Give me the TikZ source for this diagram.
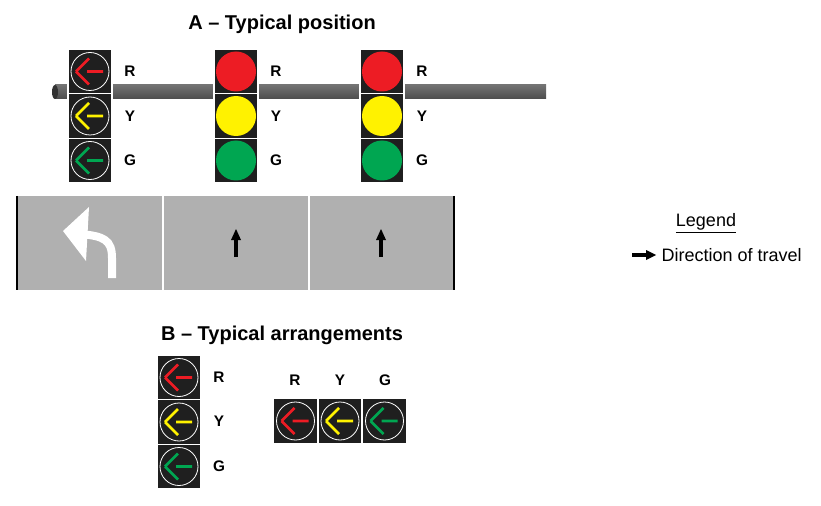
\documentclass[tikz,border=0pt]{standalone}
\usepackage{fontspec}
\setmainfont{Liberation Sans}
\begin{document}
\begin{tikzpicture}[x=0.75pt,y=-0.75pt,
  cell/.style={fill=black!88,draw=white,line width=0.8pt,minimum width=33pt,minimum height=33.5pt,inner sep=0pt},
  lbl/.style={font=\bfseries\fontsize{11.5}{13}\selectfont},
  ttl/.style={font=\bfseries\fontsize{15}{18}\selectfont},
  lamp/.style={circle,minimum size=30pt,inner sep=0pt}]
\useasboundingbox (0,0) rectangle (821,506);
\newcommand{\arrowlamp}[2]{%
  \begin{scope}[shift={(#1)}]
  \draw[white,line width=0.6pt] (0,0) circle (19);
  \draw[#2,line width=2pt] (-14,0) -- (-1,-13) (-14,0) -- (-1,13) (-3,0) -- (13,0);
  \end{scope}}
\definecolor{sred}{RGB}{237,28,36}
\definecolor{syel}{RGB}{255,242,0}
\definecolor{sgrn}{RGB}{0,166,81}
\node[ttl] (ta) at (282,24) {A – Typical position};
% pole
\shade[top color=black!55,middle color=black!25,bottom color=black!70] (55,85) rectangle (546,99);
\fill[black!80] (55,92) ellipse (3 and 7);
% heads
\foreach \x/\n in {90/a,236/b,382/c}{
  \node[cell] (\n1) at (\x,71.5) {};
  \node[cell] (\n2) at (\x,116) {};
  \node[cell] (\n3) at (\x,160.5) {};
  \node[lbl] (\n R) at (\x+40,71.5) {R};
  \node[lbl] (\n Y) at (\x+40,116) {Y};
  \node[lbl] (\n G) at (\x+40,160.5) {G};
}
\arrowlamp{a1}{sred}\arrowlamp{a2}{syel}\arrowlamp{a3}{sgrn}
\foreach \n in {b,c}{
  \node[lamp,fill=sred] (\n l1) at (\n1) {};
  \node[lamp,fill=syel] (\n l2) at (\n2) {};
  \node[lamp,fill=sgrn] (\n l3) at (\n3) {};
}
% road
\fill[black!31] (16,196) rectangle (455,290);
\draw[black,line width=1.5pt] (17,196) -- (17,290) (454,196) -- (454,290);
\draw[white,line width=1.5pt] (162.5,196) -- (162.5,290) (308.5,196) -- (308.5,290);
\draw[white,line width=6pt] (112,278) -- (112,258) .. controls (112,240) and (104,236) .. (80,234);
\fill[white] (63,231) -- (89,207) -- (86,261) -- cycle;
\foreach \x in {236,381}{
  \draw[black,line width=3pt] (\x,257) -- (\x,238);
  \fill[black] (\x-5,240) -- (\x,229) -- (\x+5,240) -- cycle;
}
% legend
\node[font=\fontsize{13.5}{16}\selectfont] (leg) at (706,223) {\underline{Legend}};
\node[font=\fontsize{13.5}{16}\selectfont,anchor=west] (dir) at (657,255) {Direction of travel};
\coordinate (la) at (632,255);
\draw[black,line width=2.5pt] (la) -- ++(16,0);
\fill[black] (646,250) -- (656,255) -- (646,260) -- cycle;
% B
\node[ttl] (tb) at (282,335) {B – Typical arrangements};
\node[cell] (d1) at (179,377.5) {};
\node[cell] (d2) at (179,422) {};
\node[cell] (d3) at (179,466.5) {};
\node[lbl] (dR) at (219,377) {R};
\node[lbl] (dY) at (219,421) {Y};
\node[lbl] (dG) at (219,466) {G};
\arrowlamp{d1}{sred}\arrowlamp{d2}{syel}\arrowlamp{d3}{sgrn}
\node[cell] (h1) at (295.5,421) {};
\node[cell] (h2) at (340,421) {};
\node[cell] (h3) at (384.5,421) {};
\node[lbl] (hR) at (295,380) {R};
\node[lbl] (hY) at (340,380) {Y};
\node[lbl] (hG) at (385,380) {G};
\arrowlamp{h1}{sred}\arrowlamp{h2}{syel}\arrowlamp{h3}{sgrn}
\end{tikzpicture}
\end{document}
